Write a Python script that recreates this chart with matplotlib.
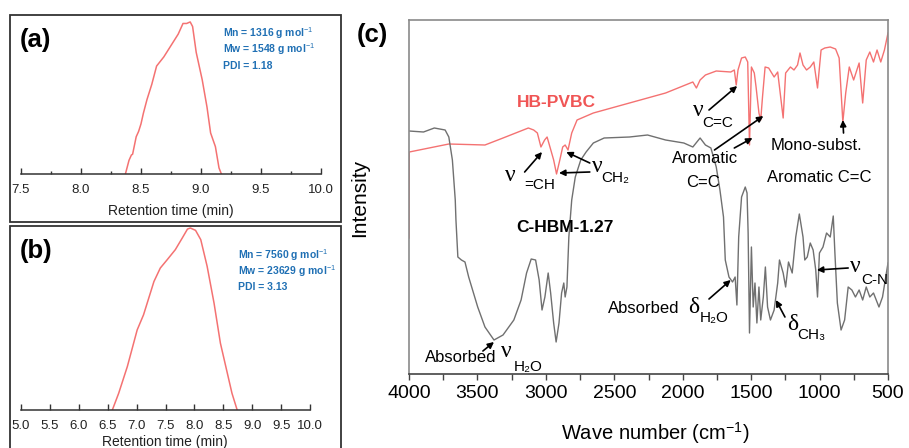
import matplotlib
matplotlib.use("Agg")
import matplotlib.pyplot as plt
from matplotlib.patches import Rectangle
from matplotlib.ticker import MultipleLocator

plt.rcParams["font.family"] = ["Liberation Sans", "DejaVu Sans"]
plt.rcParams["mathtext.fontset"] = "custom"
plt.rcParams["mathtext.rm"] = "Liberation Sans"
plt.rcParams["mathtext.bf"] = "Liberation Sans:bold"

# ---- GPC traces (normalised detector signal) ----
time_a = [8.37, 8.40, 8.42, 8.43, 8.46, 8.48, 8.50, 8.52, 8.55, 8.59, 8.63, 8.69, 8.73,
          8.77, 8.81, 8.85, 8.88, 8.91, 8.93, 8.96, 9.01, 9.05, 9.08, 9.12, 9.15, 9.17]
signal_a = [0.0, 0.09, 0.125, 0.13, 0.245, 0.28, 0.33, 0.40, 0.49, 0.59, 0.71, 0.77, 0.82,
            0.87, 0.92, 0.99, 0.99, 1.0, 0.97, 0.80, 0.62, 0.44, 0.27, 0.18, 0.04, 0.0]

time_b = [6.58, 6.69, 6.84, 7.01, 7.12, 7.30, 7.41, 7.53, 7.67, 7.79, 7.88, 7.93, 8.02,
          8.11, 8.22, 8.34, 8.45, 8.57, 8.65, 8.74]
signal_b = [0.0, 0.092, 0.239, 0.44, 0.523, 0.706, 0.78, 0.826, 0.881, 0.945, 0.994, 1.0,
            0.987, 0.936, 0.79, 0.587, 0.367, 0.202, 0.092, 0.0]

labels_a = ["Mn = 1316 g mol$^{-1}$", "Mw = 1548 g mol$^{-1}$", "PDI = 1.18"]
labels_b = ["Mn = 7560 g mol$^{-1}$", "Mw = 23629 g mol$^{-1}$", "PDI = 3.13"]

# ---- FTIR spectra (arbitrary intensity units) ----
wn_pvbc = [4000, 3998, 3709, 3445, 3313, 3128, 3089, 3062, 3036, 3009, 2991, 2970, 2943,
           2922, 2898, 2877, 2859, 2838, 2811, 2772, 2653, 2389, 2125, 1926, 1900, 1873,
           1834, 1755, 1649, 1623, 1609, 1596, 1570, 1543, 1525, 1512, 1498, 1477, 1464,
           1443, 1430, 1417, 1398, 1372, 1332, 1306, 1266, 1248, 1213, 1187, 1161, 1143,
           1121, 1095, 1068, 1042, 1015, 989, 962, 922, 883, 857, 830, 809, 783, 751, 711,
           685, 659, 633, 606, 580, 553, 526, 500]
int_pvbc = [136, 222, 230, 229, 236, 246, 244, 241, 227, 234, 237, 227, 214,
            200, 214, 227, 229, 224, 241, 254, 261, 271, 281, 292, 286, 294,
            299, 303, 302, 304, 289, 304, 316, 317, 312, 229, 307, 301, 287,
            261, 254, 277, 307, 306, 297, 302, 256, 301, 307, 304, 309, 321,
            309, 304, 307, 312, 286, 324, 326, 327, 325, 316, 252, 281, 307, 294, 311,
            271, 314, 322, 312, 324, 312, 324, 341]

wn_chbm = [4000, 3894, 3815, 3736, 3709, 3683, 3662, 3657, 3643, 3617, 3591, 3564, 3498,
           3445, 3379, 3313, 3234, 3181, 3141, 3107, 3075, 3049, 3028, 3007, 2983, 2965,
           2943, 2925, 2904, 2885, 2869, 2859, 2846, 2832, 2811, 2785, 2745, 2706, 2653,
           2574, 2389, 2257, 2125, 1992, 1926, 1873, 1834, 1794, 1755, 1728, 1702, 1689,
           1662, 1636, 1617, 1604, 1591, 1570, 1543, 1530, 1522, 1512, 1498, 1485, 1472,
           1458, 1443, 1430, 1411, 1396, 1380, 1359, 1332, 1306, 1293, 1266, 1248, 1227,
           1200, 1174, 1148, 1121, 1108, 1090, 1068, 1047, 1028, 1015, 1001, 975, 949,
           922, 900, 888, 870, 843, 817, 791, 764, 738, 711, 685, 659, 633, 606, 566,
           540, 500]
int_chbm = [243, 242, 246, 244, 237, 214, 174, 154, 117, 114, 112, 97, 67,
            47, 34, 39, 54, 74, 101, 115, 114, 94, 64, 77, 101, 81,
            51, 32, 51, 81, 91, 77, 87, 137, 174, 197, 214, 222, 231,
            236, 237, 239, 234, 231, 227, 236, 229, 226, 207, 184, 157, 114,
            97, 92, 97, 69, 137, 177, 187, 181, 141, 41, 127, 67, 91,
            51, 87, 54, 77, 107, 67, 54, 64, 91, 114, 101, 87, 112,
            101, 137, 160, 137, 114, 117, 131, 124, 104, 77, 121, 127, 141,
            137, 158, 121, 71, 44, 54, 87, 84, 77, 84, 74, 87, 77, 81, 67,
            77, 111]

W, H = 909, 448


def rect(left, top, right, bottom):
    """Pixel box -> figure fraction [l, b, w, h]."""
    return [left / W, 1 - bottom / H, (right - left) / W, (bottom - top) / H]


def fx(x, y):
    return x / W, 1 - y / H


fig = plt.figure(figsize=(W / 100, H / 100), dpi=100)

# frames around (a) and (b)
for top, bottom in [(15, 222), (226, 470)]:
    fig.patches.append(Rectangle(fx(10, bottom), 331 / W, (bottom - top) / H,
                                 transform=fig.transFigure, fill=False,
                                 edgecolor="#333333", lw=1.3))


def gpc_axes(box, t, s, xmin, xmax, minor):
    ax = fig.add_axes(box)
    ax.plot(t, s, color="#f47272", lw=1.1)
    ax.set_xlim(xmin, xmax)
    for sp in ["left", "top", "right"]:
        ax.spines[sp].set_visible(False)
    ax.spines["bottom"].set_color("#333333")
    ax.spines["bottom"].set_linewidth(1.1)
    ax.set_yticks([])
    ax.xaxis.set_major_locator(MultipleLocator(0.5))
    if minor:
        ax.xaxis.set_minor_locator(MultipleLocator(0.25))
    ax.tick_params(axis="x", which="major", direction="in", length=4, width=1,
                   labelsize=9.5, pad=7, colors="#333333", labelcolor="#222222")
    ax.tick_params(axis="x", which="minor", direction="in", length=2, width=1,
                   colors="#333333")
    ax.xaxis.set_major_formatter(plt.FuncFormatter(lambda v, p: f"{v:.1f}"))
    ax.patch.set_alpha(0)
    return ax


ax_a = gpc_axes(rect(21, 18, 321, 174), time_a, signal_a, 7.5, 10.0, True)
ax_a.set_ylim(0, 1.026)
ax_b = gpc_axes(rect(21, 226, 310, 410), time_b, signal_b, 5.0, 10.0, False)
ax_b.set_ylim(0, 1.011)

fig.text(*fx(171, 211), "Retention time (min)", ha="center", va="center", fontsize=10,
         color="#222222")
fig.text(*fx(165, 442), "Retention time (min)", ha="center", va="center", fontsize=10,
         color="#222222")

for i, s in enumerate(labels_a):
    fig.text(*fx(223, [33, 49, 66][i]), s, ha="left", va="center", fontsize=7.5,
             fontweight="bold", color="#2070b4")
for i, s in enumerate(labels_b):
    fig.text(*fx(238, [255, 271, 287][i]), s, ha="left", va="center", fontsize=7.5,
             fontweight="bold", color="#2070b4")

fig.text(*fx(20, 40), "(a)", ha="left", va="center", fontsize=18.5, fontweight="bold")
fig.text(*fx(20, 251), "(b)", ha="left", va="center", fontsize=18.5, fontweight="bold")
fig.text(*fx(357, 35), "(c)", ha="left", va="center", fontsize=18.5, fontweight="bold")

# ---- panel (c) ----
ax_c = fig.add_axes(rect(409, 20, 888, 374))
ax_c.plot(wn_pvbc, int_pvbc, color="#f47272", lw=1.0)
ax_c.plot(wn_chbm, int_chbm, color="#707070", lw=1.0)
ax_c.set_xlim(4000, 500)
ax_c.set_ylim(0, 354)
ax_c.set_yticks([])
ax_c.xaxis.set_major_locator(MultipleLocator(500))
ax_c.xaxis.set_minor_locator(MultipleLocator(250))
ax_c.tick_params(axis="x", which="both", direction="out", length=4, width=1,
                 colors="#444444", labelsize=14, labelcolor="black", pad=4)
for sp in ["left", "top", "right"]:
    ax_c.spines[sp].set_color("#8a8a8a")
    ax_c.spines[sp].set_linewidth(1.2)
ax_c.spines["bottom"].set_color("#444444")
ax_c.spines["bottom"].set_linewidth(1.2)

fig.text(*fx(655, 433), "Wave number (cm$^{-1}$)", ha="center", va="center", fontsize=14.5)
fig.text(*fx(360, 198), "Intensity", ha="center", va="center", fontsize=15, rotation=90)

ax_c.text(2925, 272, "HB-PVBC", ha="center", va="center", fontsize=12.5,
          fontweight="bold", color="#f05555")
ax_c.text(2864, 147, "C-HBM-1.27", ha="center", va="center", fontsize=12.5,
          fontweight="bold", color="black")

GREEK = dict(family="Liberation Serif", fontsize=17, ha="left", va="center")
SUB = dict(fontsize=11, ha="left", va="center")


def band(x_sym, y_sym, sym, x_sub, y_sub, sub):
    ax_c.text(x_sym, y_sym, sym, **GREEK)
    ax_c.text(x_sub, y_sub, sub, **SUB)


band(3300, 199, "ν", 3160, 189, "=CH")
band(2666, 208, "ν", 2595, 196, "CH₂")
band(1926, 264, "ν", 1860, 251, "C=C")
band(3330, 23, "ν", 3235, 7, "H₂O")
band(1961, 67, "δ", 1874, 56, "H₂O")
band(1234, 50, "δ", 1160, 39, "CH₃")
band(777, 108, "ν", 698, 94, "C-N")

ax_c.text(3880, 17, "Absorbed", ha="left", va="center", fontsize=12)
ax_c.text(2547, 66, "Absorbed", ha="left", va="center", fontsize=12)
ax_c.text(1834, 216, "Aromatic", ha="center", va="center", fontsize=12)
ax_c.text(1855, 192, "C=C", ha="center", va="center", fontsize=12)
ax_c.text(1020, 229, "Mono-subst.", ha="center", va="center", fontsize=12)
ax_c.text(1002, 197, "Aromatic C=C", ha="center", va="center", fontsize=12)

arrows = [
    ((3155, 202), (3028, 222)),
    ((2679, 211), (2851, 222)),
    ((2679, 202), (2904, 201)),
    ((1808, 264), (1602, 288)),
    ((1768, 224), (1411, 258)),
    ((1623, 226), (1490, 236)),
    ((825, 241), (830, 254)),
    ((3460, 23), (3379, 32)),
    ((1808, 75), (1649, 94)),
    ((1253, 57), (1319, 74)),
    ((791, 106), (1020, 104)),
]
for tail, head in arrows:
    ax_c.annotate("", xy=head, xytext=tail,
                  arrowprops=dict(arrowstyle="-|>", color="black", lw=1.2,
                                  mutation_scale=9, shrinkA=0, shrinkB=0))

fig.savefig("out.png", dpi=100)
